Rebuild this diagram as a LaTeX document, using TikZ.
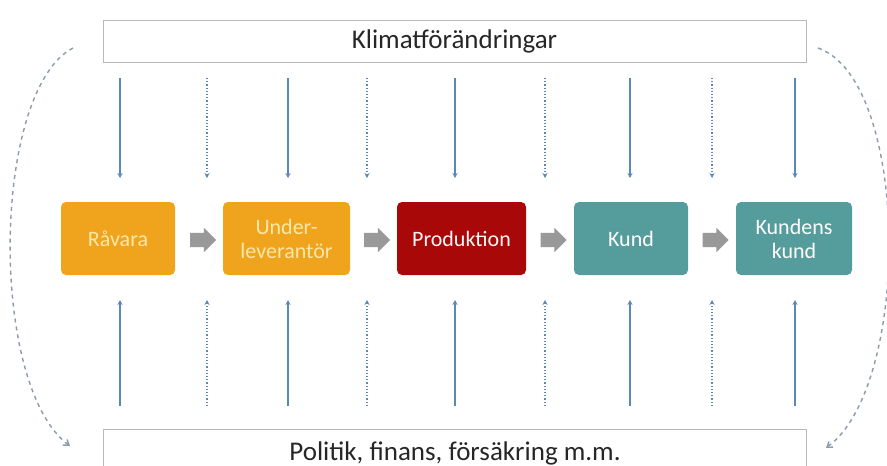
\documentclass[tikz,border=0pt]{standalone}
\usepackage{fontspec}
\setmainfont{Carlito}
\usetikzlibrary{arrows.meta,shapes.arrows}
\definecolor{orng}{HTML}{F0A41E}
\definecolor{dred}{HTML}{A80808}
\definecolor{teal2}{HTML}{559C9C}
\definecolor{blu}{HTML}{5A88B8}
\definecolor{graya}{HTML}{999999}
\definecolor{dsh}{HTML}{8C9AAA}
\definecolor{paley}{HTML}{FFE7A8}
\definecolor{txt}{HTML}{262626}
\begin{document}
\begin{tikzpicture}[x=1pt,y=-1pt,
  stagebox/.style={rounded corners=5pt, minimum width=116pt, minimum height=73pt, align=center, font=\fontsize{22}{24}\selectfont, inner sep=2pt},
  bandbox/.style={draw=gray!55, line width=0.8pt, minimum width=703pt, minimum height=42pt, font=\fontsize{27}{29}\selectfont, text=txt, inner sep=0pt},
  solidarr/.style={draw=blu, line width=1.2pt, -{Stealth[length=5pt,width=5pt]}},
  dotarr/.style={draw=blu, line width=1.2pt, dotted, -{Stealth[length=5pt,width=5pt]}},
  blockarr/.style={single arrow, fill=graya, draw=none, minimum width=24pt, single arrow head extend=5pt, single arrow head indent=0pt, minimum height=26pt, inner xsep=0pt, inner ysep=7pt},
  curve/.style={draw=dsh, line width=1.4pt, dash pattern=on 4pt off 4pt, -{Straight Barb[length=5pt,width=7pt]}}
]
\useasboundingbox (0,0) rectangle (887,466);
\node[bandbox] (top) at (454.5,41) {Klimatförändringar};
\node[bandbox, minimum height=48pt] (bot) at (455,453) {Politik, finans, försäkring m.m.};

\node[stagebox, fill=orng, text=paley, minimum width=114pt] (r) at (118,238.5) {Råvara};
\node[stagebox, fill=orng, text=paley, minimum width=127pt] (u) at (286.5,238.5) {Under-\\leverantör};
\node[stagebox, fill=dred, text=white!85!pink, minimum width=129pt] (p) at (461.5,238.5) {Produktion};
\node[stagebox, fill=teal2, text=white, minimum width=114pt] (k) at (631,238.5) {Kund};
\node[stagebox, fill=teal2, text=white] (kk) at (794,238.5) {Kundens\\kund};

\node[blockarr] (a1) at (199.5,240) {};
\node[blockarr] (a2) at (373.5,240) {};
\node[blockarr] (a3) at (550,240) {};
\node[blockarr] (a4) at (712,240) {};

\foreach \x/\s [count=\i] in {120/solidarr,207/dotarr,288/solidarr,367/dotarr,455/solidarr,545/dotarr,630/solidarr,712/dotarr,795/solidarr}{
  \coordinate (t\i) at (\x,78);
  \coordinate (tb\i) at (\x,178);
  \coordinate (b\i) at (\x,406);
  \coordinate (bt\i) at (\x,300);
  \draw[\s] (t\i) -- (tb\i);
  \draw[\s] (b\i) -- (bt\i);
}

\coordinate (ls) at (73,48);
\coordinate (le) at (70,446);
\draw[curve] (ls) .. controls (-8,90) and (-12,385) .. (le);
\coordinate (rs) at (818,48);
\coordinate (re) at (826,448);
\draw[curve] (rs) .. controls (910,80) and (912,385) .. (re);
\end{tikzpicture}
\end{document}
